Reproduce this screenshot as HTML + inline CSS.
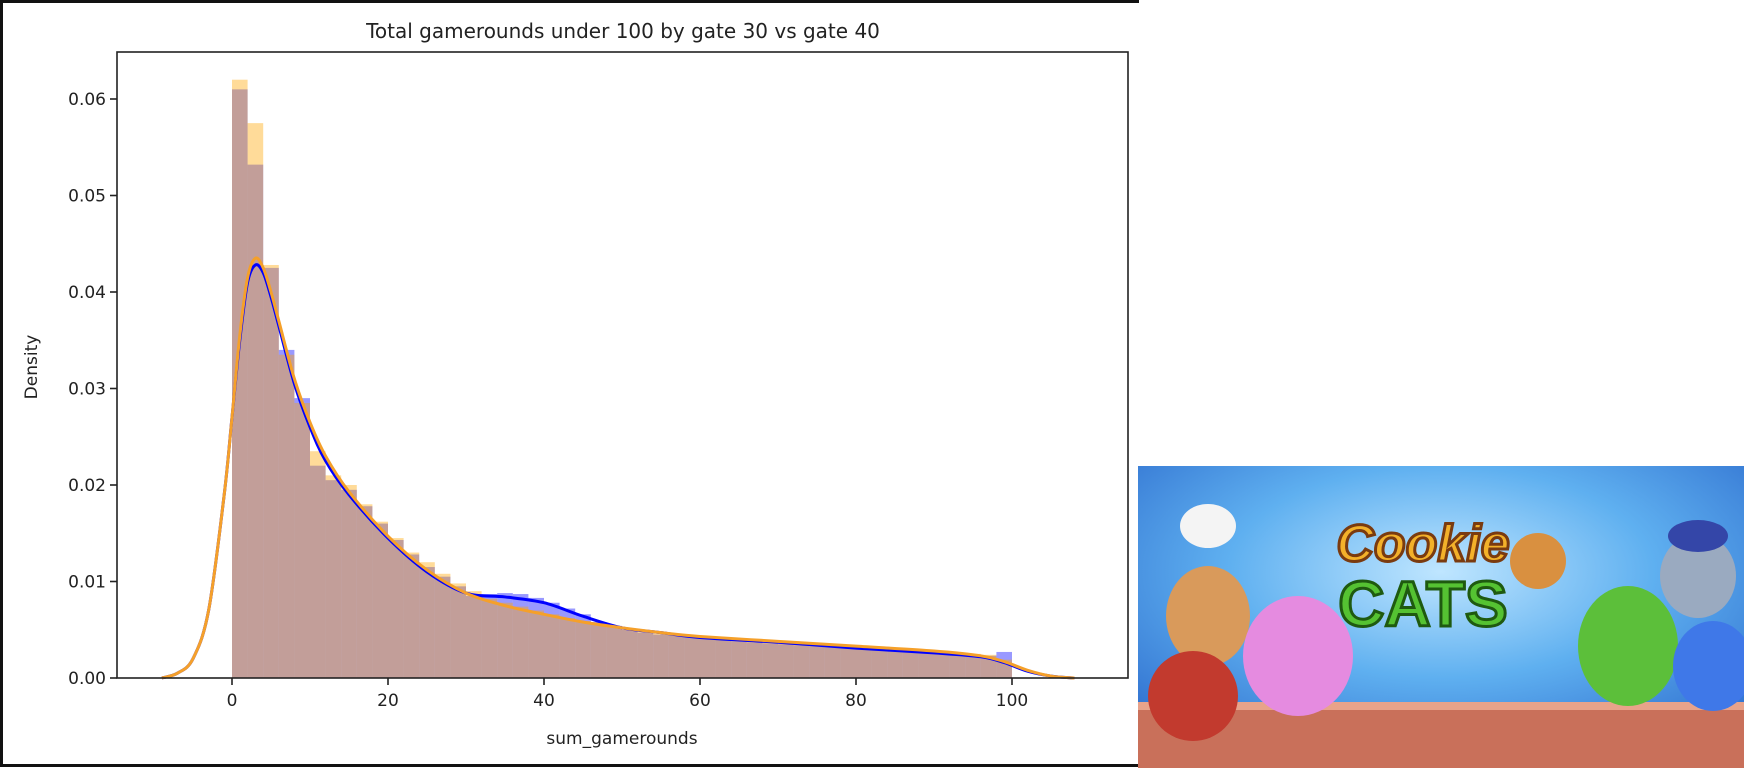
<!DOCTYPE html>
<html><head><meta charset="utf-8"><style>
body{margin:0;background:#fff;width:1744px;height:768px;overflow:hidden;position:relative;font-family:"DejaVu Sans","Liberation Sans",sans-serif}
#panel{position:absolute;left:0;top:0;width:1136px;height:761px;border-left:3px solid #111;border-top:3px solid #111;border-bottom:3px solid #111}
</style></head><body>
<div id="panel"></div>
<svg id="chart" width="1140" height="768" style="position:absolute;left:0;top:0"></svg>
<svg width="606" height="302" style="position:absolute;left:1138px;top:466px">
<defs><radialGradient id="bg" cx="0.5" cy="0.35" r="0.7"><stop offset="0" stop-color="#bfe6ff"/><stop offset="0.5" stop-color="#5fb0f0"/><stop offset="1" stop-color="#2f6fcf"/></radialGradient></defs>
<rect width="606" height="302" fill="url(#bg)"/>
<rect y="240" width="606" height="62" fill="#c9705a"/><rect y="236" width="606" height="8" fill="#e8a38a"/>
<ellipse cx="70" cy="150" rx="42" ry="50" fill="#d99a5b"/><ellipse cx="70" cy="60" rx="28" ry="22" fill="#f4f4f4"/>
<ellipse cx="160" cy="190" rx="55" ry="60" fill="#e58be0"/>
<ellipse cx="55" cy="230" rx="45" ry="45" fill="#c23a2e"/>
<ellipse cx="490" cy="180" rx="50" ry="60" fill="#5cbf3a"/>
<ellipse cx="560" cy="110" rx="38" ry="42" fill="#9aaac0"/><ellipse cx="560" cy="70" rx="30" ry="16" fill="#3446a8"/>
<ellipse cx="575" cy="200" rx="40" ry="45" fill="#3f78e8"/>
<circle cx="400" cy="95" r="28" fill="#d99040"/>
<text x="285" y="95" font-size="52" font-weight="bold" fill="#f3b12a" stroke="#7a3b10" stroke-width="3" text-anchor="middle" font-family="Liberation Sans, sans-serif" font-style="italic">Cookie</text>
<text x="285" y="160" font-size="64" font-weight="bold" fill="#55c232" stroke="#1f5a10" stroke-width="3" text-anchor="middle" font-family="Liberation Sans, sans-serif">CATS</text>
</svg>
<script>
const binStarts=[0,2,4,6,8,10,12,14,16,18,20,22,24,26,28,30,32,34,36,38,40,42,44,46,48,50,52,54,56,58,60,62,64,66,68,70,72,74,76,78,80,82,84,86,88,90,92,94,96,98];
const gate40Bins=[0.062,0.0575,0.0428,0.0335,0.0285,0.0235,0.021,0.02,0.018,0.0162,0.0145,0.013,0.012,0.0108,0.0098,0.009,0.0082,0.0078,0.0074,0.007,0.0066,0.0062,0.0059,0.0056,0.0053,0.005,0.0048,0.0046,0.0045,0.0044,0.0042,0.004,0.0039,0.0038,0.0037,0.0036,0.0035,0.0034,0.0033,0.0032,0.0031,0.003,0.003,0.0029,0.0028,0.0027,0.0026,0.0025,0.0024,0.0019];
const gate30Bins=[0.061,0.0532,0.0425,0.034,0.029,0.022,0.0205,0.0195,0.0178,0.016,0.0143,0.0128,0.0115,0.0105,0.0095,0.0085,0.0087,0.0088,0.0087,0.0083,0.0078,0.0072,0.0066,0.0058,0.0054,0.005,0.0047,0.0045,0.0044,0.0043,0.0041,0.004,0.0038,0.0037,0.0036,0.0035,0.0034,0.0033,0.0032,0.0031,0.003,0.0029,0.0029,0.0028,0.0027,0.0026,0.0025,0.0024,0.0023,0.0027];
const kdeX=[-9,-7,-5,-3,-1,0,1,2,3,4,5,6,8,10,12,15,20,25,30,35,40,45,50,55,60,70,80,90,96,99,102,105,108];
const gate30Kde=[0,0.0005,0.002,0.007,0.019,0.027,0.035,0.041,0.0428,0.042,0.0395,0.0365,0.0305,0.026,0.0225,0.019,0.0145,0.011,0.0088,0.0084,0.0078,0.0064,0.0052,0.0047,0.0042,0.0037,0.0031,0.0026,0.0022,0.0016,0.0007,0.0002,0];
const gate40Kde=[0,0.0005,0.002,0.007,0.019,0.027,0.0355,0.0415,0.0435,0.0425,0.04,0.037,0.031,0.0265,0.023,0.0193,0.0147,0.0112,0.0088,0.0075,0.0066,0.0058,0.0052,0.0047,0.0043,0.0038,0.0033,0.0028,0.0023,0.0017,0.0008,0.0002,0];
const xTicks=[0,20,40,60,80,100];
const yTicks=[0,0.01,0.02,0.03,0.04,0.05,0.06];
const yTickLabels=["0.00","0.01","0.02","0.03","0.04","0.05","0.06"];
const binWidth=2;
const L=117,R=1128,T=52,B=678;
const sx=v=>232+v*7.8;
const sy=v=>B-v*9650;
const svg=document.getElementById('chart');
const NS='http://www.w3.org/2000/svg';
function mk(tag,attrs,parent){const e=document.createElementNS(NS,tag);for(const k in attrs)e.setAttribute(k,attrs[k]);(parent||svg).appendChild(e);return e;}
function bars(vals,color,name){
  vals.forEach((v,i)=>{
    const r=mk('rect',{x:sx(binStarts[i]),y:sy(v),width:sx(binStarts[i]+binWidth)-sx(binStarts[i]),height:B-sy(v),fill:color,'fill-opacity':0.4});
    
    
  });
}
bars(gate30Bins,'#0000ff','gate30');
bars(gate40Bins,'#ffa500','gate40');
// make overlap brownish like reference
function path(xs,ys){
  const p=xs.map((x,i)=>[sx(x),sy(ys[i])]);
  let d='M'+p[0][0]+','+p[0][1];
  for(let i=0;i<p.length-1;i++){
    const p0=p[Math.max(0,i-1)],p1=p[i],p2=p[i+1],p3=p[Math.min(p.length-1,i+2)];
    d+=' C'+(p1[0]+(p2[0]-p0[0])/6)+','+(p1[1]+(p2[1]-p0[1])/6)+' '+(p2[0]-(p3[0]-p1[0])/6)+','+(p2[1]-(p3[1]-p1[1])/6)+' '+p2[0]+','+p2[1];
  }
  return d;
}
const l1=mk('path',{d:path(kdeX,gate30Kde),fill:'none',stroke:'#0000ff','stroke-width':3});


const l2=mk('path',{d:path(kdeX,gate40Kde),fill:'none',stroke:'#f5a02a','stroke-width':3});


const frame=mk('rect',{x:L,y:T,width:R-L,height:B-T,fill:'none',stroke:'#222','stroke-width':1.6});


xTicks.forEach(t=>{
  mk('line',{x1:sx(t),x2:sx(t),y1:B,y2:B+7,stroke:'#222','stroke-width':1.6});
  const tx=mk('text',{x:sx(t),y:B+28,'font-size':17,'text-anchor':'middle',fill:'#222'});
  tx.textContent=t;
  
  
});
yTicks.forEach((t,i)=>{
  mk('line',{x1:L-7,x2:L,y1:sy(t),y2:sy(t),stroke:'#222','stroke-width':1.6});
  const tx=mk('text',{x:L-11,y:sy(t)+6,'font-size':17,'text-anchor':'end',fill:'#222'});
  tx.textContent=yTickLabels[i];
  
  
});
const title=mk('text',{x:623,y:38,'font-size':20,'text-anchor':'middle',fill:'#222'});
title.textContent='Total gamerounds under 100 by gate 30 vs gate 40';


const xl=mk('text',{x:622,y:744,'font-size':17,'text-anchor':'middle',fill:'#222'});
xl.textContent='sum_gamerounds';


const yl=mk('text',{x:0,y:0,'font-size':17,'text-anchor':'middle',fill:'#222',transform:'translate(37,367) rotate(-90)'});
yl.textContent='Density';


</script>
</body></html>
